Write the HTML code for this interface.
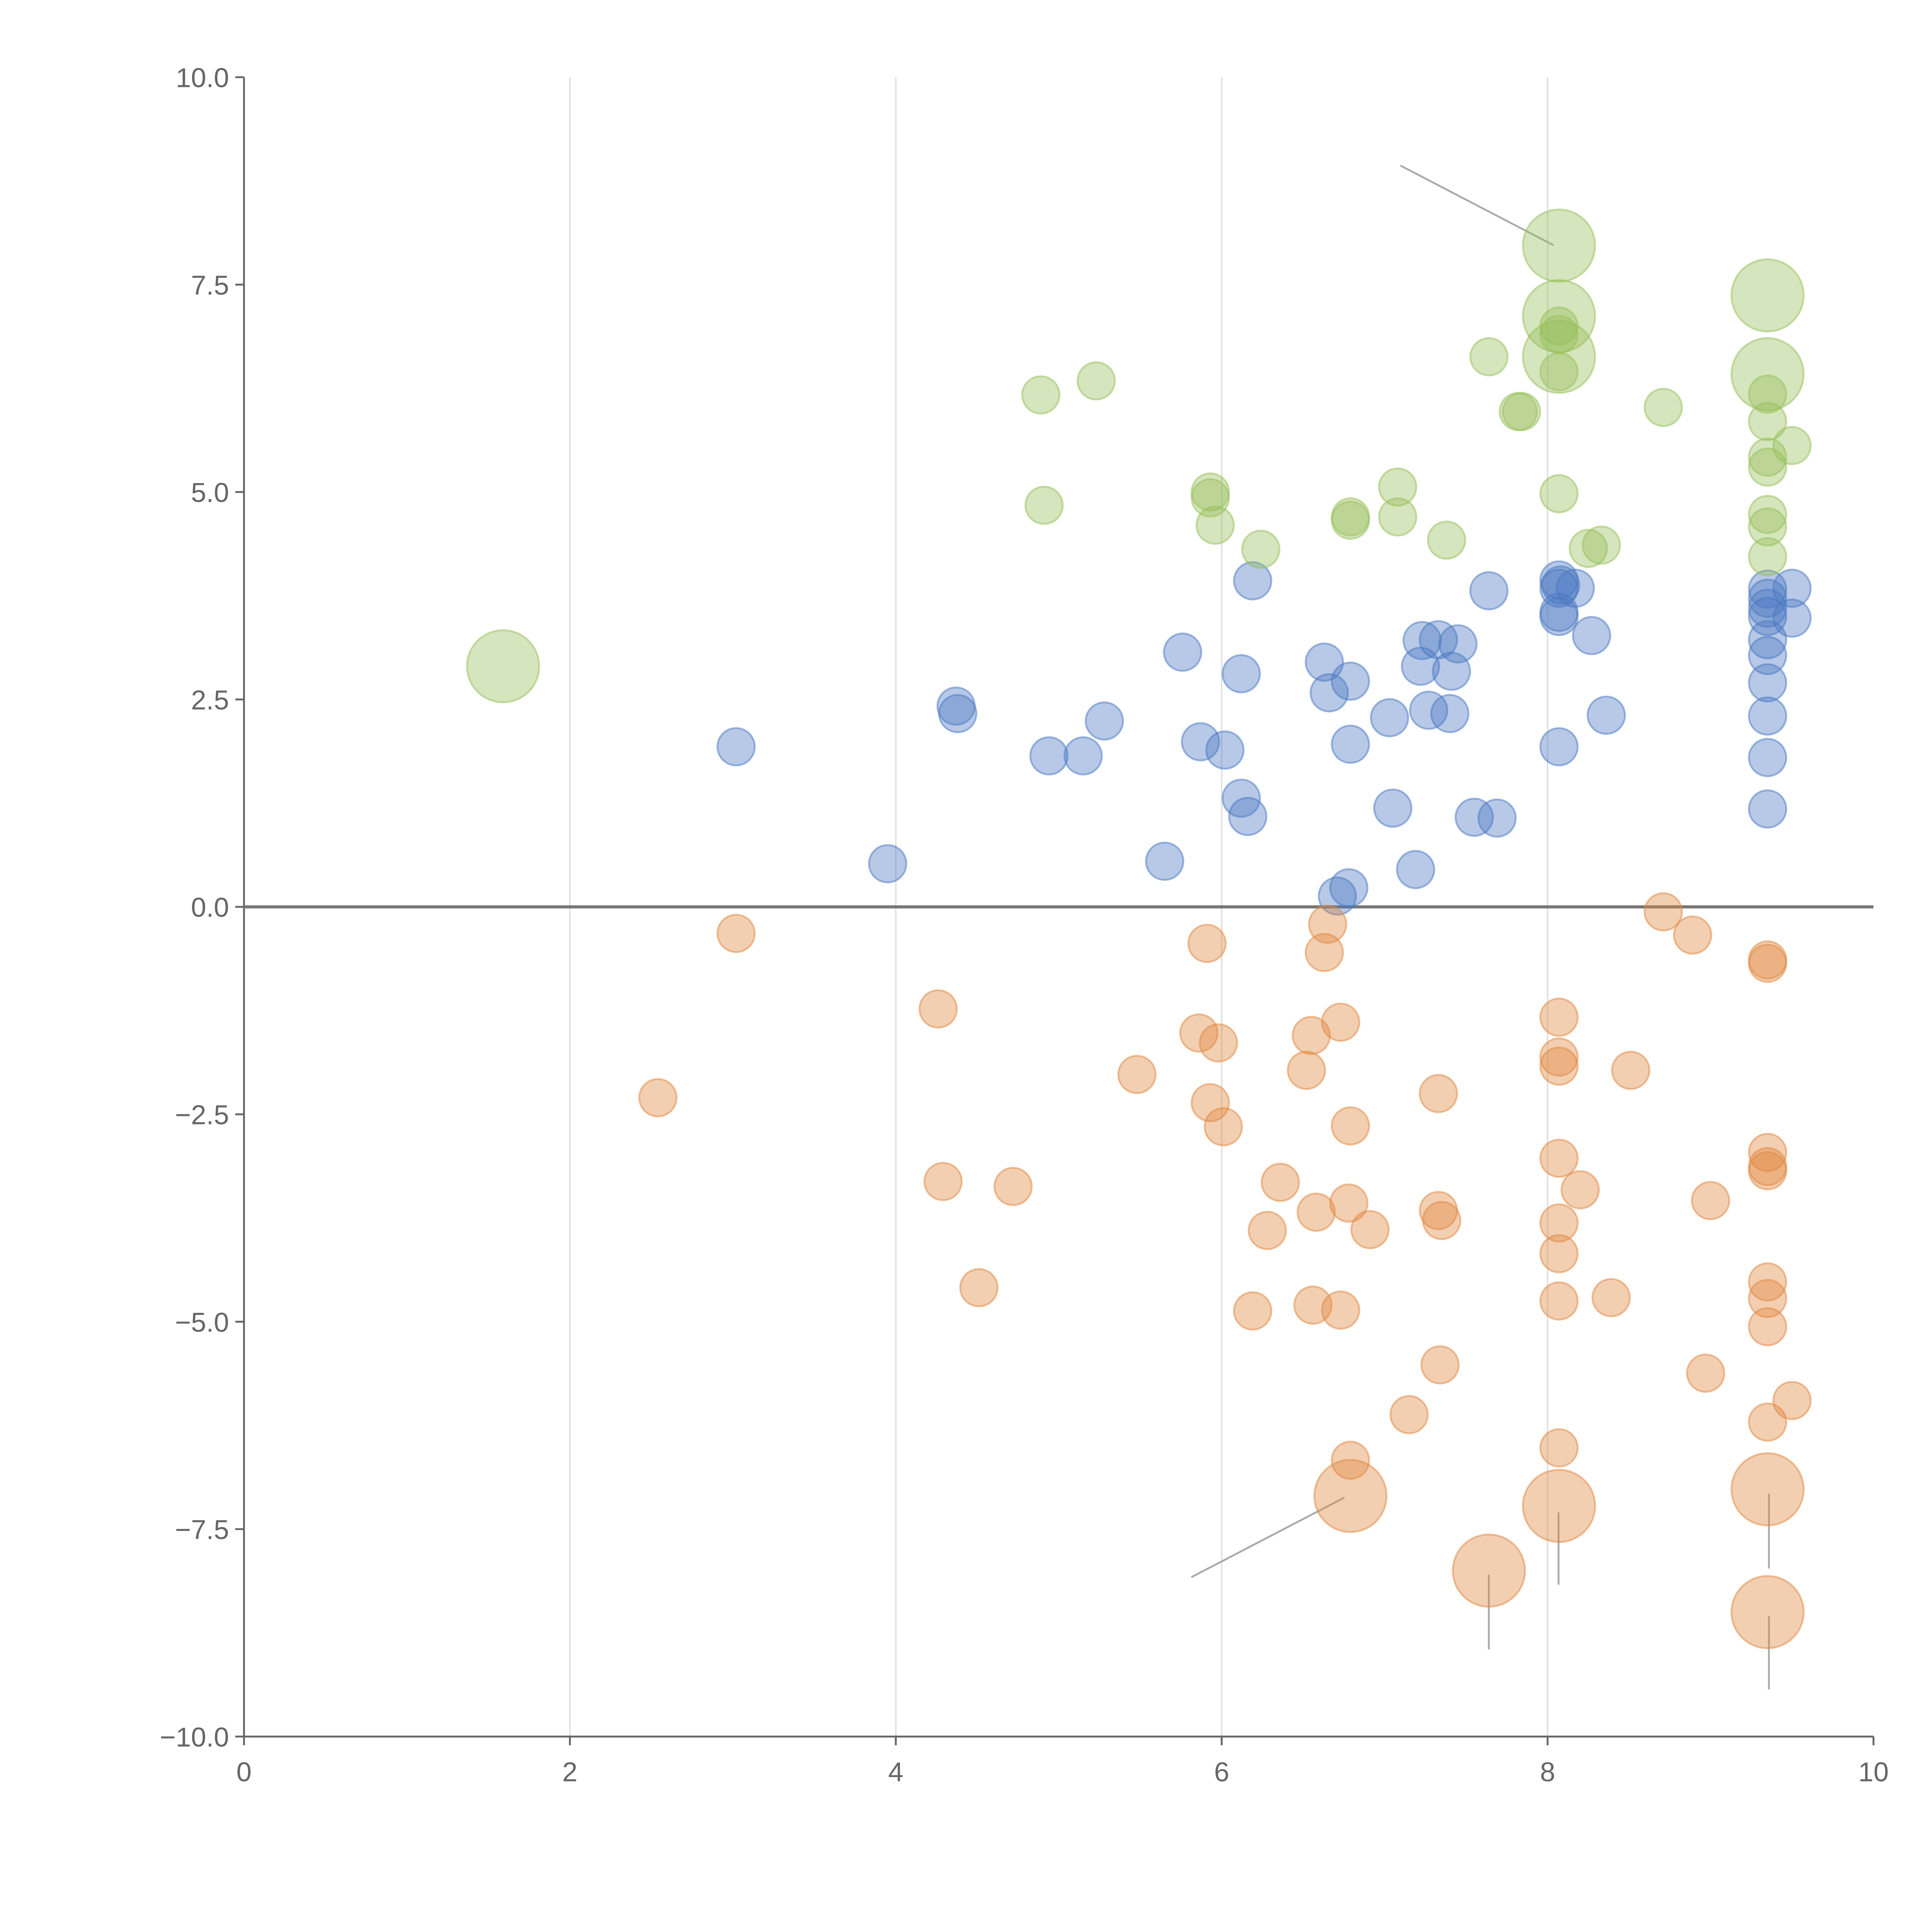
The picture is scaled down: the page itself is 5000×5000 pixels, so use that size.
<!DOCTYPE html>
<html><head><meta charset="utf-8"><style>
html,body{margin:0;padding:0;background:#fff;}
svg{display:block;}
text{font-family:"Liberation Sans",sans-serif;fill:#666;font-size:22px;}
</style></head><body>
<svg id="chart" width="5000" height="5000" viewBox="0 0 1552 1552" xmlns="http://www.w3.org/2000/svg">
<g id="grid"></g>
<g id="axes"></g>
<g id="annos"></g>
<g id="marks"></g>
</svg>
<script>
const xTicks=[0,2,4,6,8,10];
const yTicks=[10,7.5,5,2.5,0,-2.5,-5,-7.5,-10];
const yTickLabels=["10.0","7.5","5.0","2.5","0.0","\u22122.5","\u22125.0","\u22127.5","\u221210.0"];
const blueX=[3.02,3.95,4.37,4.38,4.94,5.15,5.28,5.65,5.76,5.87,6.02,6.12,6.12,6.16,6.19,6.63,6.66,6.71,6.78,6.79,6.79,7.03,7.05,7.19,7.22,7.23,7.27,7.33,7.40,7.41,7.45,7.55,7.64,7.69,8.07,8.07,8.07,8.07,8.07,8.08,8.17,8.27,8.36,9.35,9.35,9.35,9.35,9.35,9.35,9.35,9.35,9.35,9.35,9.50,9.50];
const blueY=[1.93,0.52,2.42,2.33,1.82,1.82,2.24,0.55,3.07,1.99,1.89,1.31,2.81,1.09,3.93,2.95,2.58,0.13,0.23,1.96,2.72,2.28,1.19,0.45,2.90,3.21,2.37,3.22,2.33,2.84,3.17,1.08,3.81,1.07,1.93,3.50,3.55,3.84,3.94,3.88,3.84,3.27,2.31,1.18,1.80,2.30,2.70,3.03,3.22,3.50,3.60,3.72,3.83,3.84,3.48];
const greenX=[1.59,4.89,4.91,5.23,5.93,5.93,5.96,6.24,6.79,6.79,7.08,7.08,7.38,7.64,7.82,7.84,8.07,8.07,8.07,8.07,8.07,8.07,8.07,8.25,8.33,8.71,9.35,9.35,9.35,9.35,9.35,9.35,9.35,9.35,9.35,9.50];
const greenY=[2.90,6.17,4.84,6.34,5.00,4.93,4.60,4.31,4.66,4.70,5.06,4.70,4.42,6.63,5.97,5.97,4.98,7.97,7.12,6.63,7.00,6.45,6.90,4.32,4.36,6.02,7.37,6.42,6.18,5.85,5.42,5.30,4.73,4.58,4.22,5.56];
const greenBig=[1,0,0,0,0,0,0,0,0,0,0,0,0,0,0,0,0,1,1,1,0,0,0,0,0,0,1,1,0,0,0,0,0,0,0,0];
const orangeX=[2.54,3.02,4.26,4.29,4.51,4.72,5.48,5.86,5.91,5.93,5.98,6.01,6.19,6.28,6.36,6.52,6.55,6.56,6.58,6.63,6.65,6.73,6.73,6.78,6.79,6.79,6.79,6.91,7.15,7.33,7.33,7.35,7.34,7.64,8.07,8.07,8.07,8.07,8.07,8.07,8.07,8.07,8.07,8.20,8.39,8.51,8.71,8.89,8.97,9.00,9.35,9.35,9.35,9.35,9.35,9.35,9.35,9.35,9.35,9.35,9.35,9.50];
const orangeY=[-2.30,-0.32,-1.23,-3.31,-4.59,-3.37,-2.02,-1.52,-0.44,-2.36,-1.64,-2.65,-4.87,-3.90,-3.32,-1.97,-1.55,-4.80,-3.68,-0.55,-0.21,-1.39,-4.86,-3.57,-2.64,-6.67,-7.10,-3.89,-6.12,-2.25,-3.66,-3.78,-5.52,-8.00,-1.33,-1.81,-1.92,-3.03,-3.81,-4.18,-4.75,-6.52,-7.22,-3.41,-4.71,-1.97,-0.06,-0.34,-5.62,-3.54,-0.64,-0.68,-2.96,-3.13,-3.18,-4.52,-4.72,-5.06,-6.21,-7.02,-8.50,-5.95];
const orangeBig=[0,0,0,0,0,0,0,0,0,0,0,0,0,0,0,0,0,0,0,0,0,0,0,0,0,0,1,0,0,0,0,0,0,1,0,0,0,0,0,0,0,0,1,0,0,0,0,0,0,0,0,0,0,0,0,0,0,0,0,1,1,0];

const NS="http://www.w3.org/2000/svg";
const X0=196,X1=1505,Y0=1395,Y1=62;
function sx(v){return X0+(v-0)/(10-0)*(X1-X0);}
function sy(v){return Y0-(v+10)/20*(Y0-Y1);}
function mk(tag,attrs,parent){const e=document.createElementNS(NS,tag);for(const k in attrs)e.setAttribute(k,attrs[k]);parent.appendChild(e);return e;}
const grid=document.getElementById('grid'),axes=document.getElementById('axes'),marks=document.getElementById('marks'),annos=document.getElementById('annos');

xTicks.forEach((t,i)=>{
  if(t>0&&t<10){const g=mk('line',{x1:sx(t),x2:sx(t),y1:Y1,y2:Y0,stroke:'#e0e0e0','stroke-width':1.2},grid);
  
  }
  const tk=mk('line',{x1:sx(t),x2:sx(t),y1:Y0,y2:Y0+7,stroke:'#666','stroke-width':1.5},axes);
  
  
  const tx=mk('text',{x:sx(t),y:Y0+36,'text-anchor':'middle'},axes);tx.textContent=t;
  
  
});
yTicks.forEach((t,i)=>{
  const tk=mk('line',{x1:X0-7,x2:X0,y1:sy(t),y2:sy(t),stroke:'#666','stroke-width':1.5},axes);
  
  
  const tx=mk('text',{x:X0-12,y:sy(t)+8,'text-anchor':'end'},axes);tx.textContent=yTickLabels[i];
  
  
});
let a=mk('line',{x1:X0,x2:X0,y1:Y1,y2:Y0,stroke:'#666','stroke-width':1.5},axes);


a=mk('line',{x1:X0,x2:X1,y1:Y0,y2:Y0,stroke:'#666','stroke-width':1.5},axes);


a=mk('line',{x1:X0,x2:X1,y1:sy(0),y2:sy(0),stroke:'#777','stroke-width':2.5},axes);



[[1125,133,1248,197],[957,1267,1080,1203],[1196,1265,1196,1325],[1252,1215,1252,1273],[1421,1200,1421,1260],[1421,1298,1421,1357]].forEach(l=>{
  const e=mk('line',{x1:l[0],y1:l[1],x2:l[2],y2:l[3],stroke:'#aaa','stroke-width':1.5},annos);
  
  
});

function series(xs,ys,big,col,name){
  xs.forEach((x,i)=>{
    const r=(big&&big[i])?29:15;
    const c=mk('circle',{cx:sx(x),cy:sy(ys[i]),r:r,fill:col,'fill-opacity':0.4,stroke:col,'stroke-opacity':0.5,'stroke-width':1.5},marks);
    
    
  });
}
series(blueX,blueY,null,'#4a78c2','blue');
series(greenX,greenY,greenBig,'#97bf5a','green');
series(orangeX,orangeY,orangeBig,'#e0883f','orange');
</script>
</body></html>
